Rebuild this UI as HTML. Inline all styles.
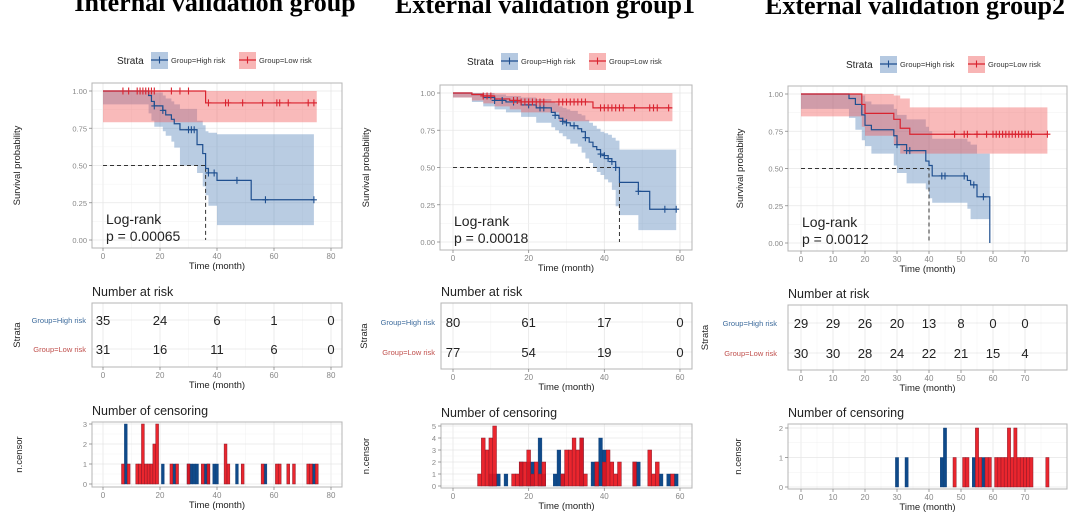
<!DOCTYPE html>
<html><head><meta charset="utf-8"><style>
body{margin:0;background:#fff;}
svg{display:block;font-family:"Liberation Sans",sans-serif;}
</style></head><body>
<svg id="fig" width="1080" height="525" viewBox="0 0 1080 525" xmlns="http://www.w3.org/2000/svg">
<text x="215" y="11" text-anchor="middle" font-family="Liberation Serif,serif" font-weight="bold" font-size="26">Internal validation group</text>
<text x="545" y="13" text-anchor="middle" font-family="Liberation Serif,serif" font-weight="bold" font-size="26">External validation group1</text>
<text x="915" y="14" text-anchor="middle" font-family="Liberation Serif,serif" font-weight="bold" font-size="26">External validation group2</text>
</svg>
<script>
// ---- Panel 1 data ----
const p1HighT=[0,16,17,18,21,22,24,25,27,33,35,36,37,40,52,74];
const p1HighS=[1,.97,.93,.90,.87,.84,.81,.78,.74,.64,.58,.48,.45,.40,.27,.27];
const p1HighUp=[1,1,1,.99,.97,.95,.93,.91,.88,.80,.77,.73,.72,.71,.71,.71];
const p1HighLo=[1,.91,.85,.80,.76,.73,.70,.66,.62,.50,.45,.36,.30,.23,.10,.10];
const p1LowT=[0,36,75];
const p1LowS=[1,.92,.92];
const p1LowUp=[1,1,1];
const p1LowLo=[1,.79,.79];
const p1HighCens=[18,21,30,31,32,37,39,47,57,74];
const p1LowCens=[7,9,12,13,14,15,16,17,18,24,27,30,37,43,44,49,56,61,62,65,72,74];
const p1XTicks=[0,20,40,60,80];
const p1RiskHigh=[35,24,6,1,0];
const p1RiskLow=[31,16,11,6,0];
const p1BarHighT=[8,21,25,30,31,32,33,36,37,39,40,47,57,74];
const p1BarHighN=[3,1,1,1,1,1,1,1,1,1,1,1,1,1];
const p1BarLowT=[7,9,12,13,14,15,16,17,18,19,24,26,30,35,37,43,44,49,56,61,62,65,67,72,73,75];
const p1BarLowN=[1,1,1,1,3,1,1,1,2,3,1,1,1,1,1,2,1,1,1,1,1,1,1,1,1,1];
const p1CensTicks=[0,1,2,3];
// ---- Panel 2 data ----
const p2HighT=[0,5,8,11,14,18,22,26,27,28,29,30,31,33,34,35,36,37,38,39,40,41,42,43,44,49,52,59];
const p2HighS=[1,.99,.97,.95,.94,.92,.90,.87,.85,.83,.81,.80,.78,.76,.74,.70,.67,.64,.62,.59,.58,.56,.54,.50,.40,.34,.22,.22];
const p2HighUp=[1,1,1,.99,.98,.97,.96,.94,.93,.91,.90,.89,.88,.86,.85,.82,.80,.78,.76,.74,.73,.72,.70,.68,.62,.62,.62,.62];
const p2HighLo=[1,.97,.94,.91,.89,.87,.84,.80,.77,.75,.73,.71,.69,.66,.64,.60,.56,.53,.50,.47,.45,.42,.40,.35,.24,.18,.08,.08];
const p2LowT=[0,5,8,11,15,18,28,37,58];
const p2LowS=[1,.99,.98,.96,.95,.94,.94,.90,.90];
const p2LowUp=[1,1,1,1,1,1,1,1,1];
const p2LowLo=[1,.97,.95,.93,.91,.89,.87,.81,.81];
const p2HighCens=[11,13,16,20,23,24,27,29,30,32,35,39,40,41,42,43,49,56,59];
const p2LowCens=[8,9,10,16,17,18,19,20,21,22,23,24,28,29,30,31,32,33,34,35,39,40,41,42,43,44,45,48,52,53,54,57];
const p2XTicks=[0,20,40,60];
const p2RiskHigh=[80,61,17,0];
const p2RiskLow=[77,54,19,0];
const p2BarHighT=[10,11,12,14,18,20,21,23,24,27,28,29,34,37,38,39,40,48,49,55,57,59];
const p2BarHighN=[1,1,1,1,2,2,2,4,1,1,3,1,4,2,2,4,3,2,2,1,1,1];
const p2BarLowT=[7,8,9,10,11,16,17,18,19,20,21,22,23,24,29,30,31,32,33,34,35,38,40,41,42,43,44,48,52,53,54,58];
const p2BarLowN=[1,4,3,4,5,1,1,2,2,3,1,2,1,2,1,3,3,4,3,4,1,2,2,3,2,1,2,2,3,1,2,1];
const p2CensTicks=[0,1,2,3,4,5];
// ---- Panel 3 data ----
const p3HighT=[0,15,17,19,20,22,29,30,33,39,40,41,52,53,55,59];
const p3HighS=[1,.97,.93,.86,.79,.76,.72,.66,.62,.55,.52,.45,.42,.39,.31,0];
const p3HighUp=[1,1,1,.99,.95,.93,.90,.86,.83,.78,.75,.70,.68,.66,.60,.60];
const p3HighLo=[1,.90,.84,.76,.69,.65,.60,.52,.47,.40,.36,.30,.27,.23,.16,.16];
const p3LowT=[0,19,20,29,31,34,77];
const p3LowS=[1,.93,.87,.83,.77,.73,.73];
const p3LowUp=[1,1,1,.99,.97,.91,.91];
const p3LowLo=[1,.85,.78,.72,.66,.60,.60];
const p3HighCens=[30,33,34,44,45,51,54,57];
const p3LowCens=[48,51,52,55,58,60,61,62,63,64,65,66,67,68,69,70,71,72,77];
const p3XTicks=[0,10,20,30,40,50,60,70];
const p3RiskHigh=[29,29,26,20,13,8,0,0];
const p3RiskLow=[30,30,28,24,22,21,15,4];
const p3BarHighT=[30,33,44,45,54,57];
const p3BarHighN=[1,1,1,2,1,1];
const p3BarLowT=[48,51,52,55,56,58,59,61,62,63,64,65,66,67,68,69,70,71,72,77];
const p3BarLowN=[1,1,1,2,1,1,1,1,1,1,1,2,1,2,1,1,1,1,1,1];
const p3CensTicks=[0,1,2];

const NS='http://www.w3.org/2000/svg';
const svg=document.getElementById('fig');
const BLUE='#1f4f8f',RED='#d9232f';
function mk(tag,attrs,parent,txt){const e=document.createElementNS(NS,tag);for(const k in attrs)e.setAttribute(k,attrs[k]);if(txt!==undefined)e.textContent=txt;(parent||svg).appendChild(e);return e;}
function txt(x,y,s,size,fill,anchor,name,rot){const e=mk('text',{x:x,y:y,'font-size':size,fill:fill,'text-anchor':anchor||'start'},svg,s);


if(rot)e.setAttribute('transform','rotate(-90 '+x+' '+y+')');return e;}
function stepPath(T,V,xs,ys){let d='M'+xs(T[0])+','+ys(V[0]);for(let i=1;i<T.length;i++){d+=' H'+xs(T[i])+' V'+ys(V[i]);}return d;}
function bandPath(T,U,L,xs,ys){let d='M'+xs(T[0])+','+ys(U[0]);for(let i=1;i<T.length;i++){d+=' H'+xs(T[i])+' V'+ys(U[i]);}
for(let i=T.length-1;i>=1;i--){d+=' V'+ys(L[i])+' H'+xs(T[i-1]);}d+=' V'+ys(L[0])+' Z';return d;}
function grid(box,xs,xt,yvals,ys,name){
  const g=mk('g',{});
  
  
  mk('rect',{x:box.x1,y:box.y1,width:box.x2-box.x1,height:box.y2-box.y1,fill:'#fff'},g);
  const step=xt[1]-xt[0];
  for(let i=0;i<xt.length;i++){mk('line',{x1:xs(xt[i]),x2:xs(xt[i]),y1:box.y1,y2:box.y2,stroke:'#e6e6e6','stroke-width':0.8},g);
    const m=xt[i]+step/2;const mx=xs(m);if(mx<box.x2)mk('line',{x1:mx,x2:mx,y1:box.y1,y2:box.y2,stroke:'#f1f1f1','stroke-width':0.5},g);}
  const mm=xs(xt[0]-step/2);if(mm>box.x1)mk('line',{x1:mm,x2:mm,y1:box.y1,y2:box.y2,stroke:'#f1f1f1','stroke-width':0.5},g);
  for(let i=0;i<yvals.length;i++){mk('line',{x1:box.x1,x2:box.x2,y1:ys(yvals[i]),y2:ys(yvals[i]),stroke:'#e6e6e6','stroke-width':0.8},g);
    if(i<yvals.length-1){const yy=ys((yvals[i]+yvals[i+1])/2);mk('line',{x1:box.x1,x2:box.x2,y1:yy,y2:yy,stroke:'#f1f1f1','stroke-width':0.5},g);}}
  return g;}
function border(box,name){const r=mk('rect',{x:box.x1,y:box.y1,width:box.x2-box.x1,height:box.y2-box.y1,fill:'none',stroke:'#b5b5b5','stroke-width':1});

}
function xticks(box,xs,xt,pfx){for(const t of xt){mk('line',{x1:xs(t),x2:xs(t),y1:box.y2,y2:box.y2+3,stroke:'#888','stroke-width':0.8});
 txt(xs(t),box.y2+11,String(t),8,'#888','middle',pfx+'-x-tick-'+t);}}
function cross(x,y,col,g){mk('path',{d:'M'+(x-3)+','+y+' H'+(x+3)+' M'+x+','+(y-3.5)+' V'+(y+3.5),stroke:col,'stroke-width':1.1,fill:'none'},g);}

function panel(P){
  const xs=t=>P.x0+t*P.xk;
  txt(P.leg.x,P.leg.y+4,'Strata',10,'#222','start',P.id+'-legend-title');
  const lk=[[BLUE,'rgba(70,120,180,0.4)','Group=High risk'],[RED,'rgba(240,90,90,0.45)','Group=Low risk']];
  let lx=P.leg.x+34;
  lk.forEach((k,i)=>{const g=mk('g',{});
    
    
    mk('rect',{x:lx,y:P.leg.y-8,width:17,height:17,fill:k[1]},g);
    mk('line',{x1:lx,x2:lx+17,y1:P.leg.y,y2:P.leg.y,stroke:k[0],'stroke-width':1.2},g);cross(lx+8.5,P.leg.y,k[0],g);
    mk('text',{x:lx+20,y:P.leg.y+3,'font-size':7.5,fill:'#333'},g,k[2]);lx+=88;});
  const B=P.km, ys=v=>P.ky0+(P.ky1-P.ky0)*v;
  grid(B,xs,P.xt,[0,.25,.5,.75,1],ys,P.id+'-km-grid');
  const bh=mk('path',{d:bandPath(P.hT,P.hUp,P.hLo,xs,ys),fill:'rgba(70,120,180,0.38)'});
  
  const bl=mk('path',{d:bandPath(P.lT,P.lUp,P.lLo,xs,ys),fill:'rgba(240,90,90,0.42)'});
  
  mk('path',{d:'M'+xs(0)+','+ys(.5)+' H'+xs(P.med)+' V'+ys(0),stroke:'#333','stroke-width':1,'stroke-dasharray':'4,3',fill:'none'});
  const lh=mk('path',{d:stepPath(P.hT,P.hS,xs,ys),stroke:BLUE,'stroke-width':1.2,fill:'none'});
  
  const ll=mk('path',{d:stepPath(P.lT,P.lS,xs,ys),stroke:RED,'stroke-width':1.2,fill:'none'});
  
  const sv=(T,V,t)=>{let v=V[0];for(let i=0;i<T.length;i++)if(T[i]<=t)v=V[i];return v;};
  P.hC.forEach(t=>cross(xs(t),ys(sv(P.hT,P.hS,t)),BLUE));
  P.lC.forEach(t=>cross(xs(t),ys(sv(P.lT,P.lS,t)),RED));
  border(B,P.id+'-km-panel');
  [0,.25,.5,.75,1].forEach(v=>{mk('line',{x1:B.x1-3,x2:B.x1,y1:ys(v),y2:ys(v),stroke:'#888','stroke-width':0.8});
    txt(B.x1-5,ys(v)+3,v.toFixed(2),7.5,'#888','end',P.id+'-y-tick-'+v);});
  xticks(B,xs,P.xt,P.id+'-km');
  txt((B.x1+B.x2)/2,B.y2+21,'Time (month)',9.5,'#222','middle',P.id+'-km-x-title');
  txt(P.ylx,(B.y1+B.y2)/2,'Survival probability',9.5,'#222','middle',P.id+'-km-y-title',true);
  txt(B.x1+14,B.y2-24,'Log-rank',14,'#222','start',P.id+'-logrank-label');
  txt(B.x1+14,B.y2-7,'p = '+P.p,14,'#222','start',P.id+'-logrank-p');
  const R=P.rk;
  txt(R.x1,R.y1-7,'Number at risk',12.5,'#222','start',P.id+'-risk-title');
  grid(R,xs,P.xt,[],null,P.id+'-risk-grid');
  [P.r1,P.r2].forEach(y=>mk('line',{x1:R.x1,x2:R.x2,y1:y,y2:y,stroke:'#e6e6e6','stroke-width':0.8}));
  border(R,P.id+'-risk-panel');
  P.xt.forEach((t,i)=>{txt(xs(t),P.r1+5,String(P.rh[i]),13,'#222','middle',P.id+'-risk-high-'+t);
    txt(xs(t),P.r2+5,String(P.rl[i]),13,'#222','middle',P.id+'-risk-low-'+t);});
  txt(R.x1-P.lblOff,P.r1+3,'Group=High risk',7.5,'#3d6b9c','end',P.id+'-risk-label-high');
  txt(R.x1-P.lblOff,P.r2+3,'Group=Low risk',7.5,'#c0504d','end',P.id+'-risk-label-low');
  xticks(R,xs,P.xt,P.id+'-risk');
  txt((R.x1+R.x2)/2,R.y2+21,'Time (month)',9.5,'#222','middle',P.id+'-risk-x-title');
  txt(P.slx,(R.y1+R.y2)/2,'Strata',9.5,'#222','middle',P.id+'-risk-y-title',true);
  const C=P.cs, cy=v=>P.cy0+v*P.cyk;
  txt(C.x1,C.y1-7,'Number of censoring',12.5,'#222','start',P.id+'-censor-title');
  grid(C,xs,P.xt,P.ct,cy,P.id+'-censor-grid');
  const bw=Math.max(P.xk*1.0,2.5);
  P.bhT.forEach((t,i)=>{const r=mk('rect',{x:xs(t)-bw/2,y:cy(P.bhN[i]),width:bw,height:cy(0)-cy(P.bhN[i]),fill:'#0f4a8a',stroke:'#0f3e75','stroke-width':0.4});
    });
  P.blT.forEach((t,i)=>{const r=mk('rect',{x:xs(t)-bw/2,y:cy(P.blN[i]),width:bw,height:cy(0)-cy(P.blN[i]),fill:'#e8141c',stroke:'#8b1a2a','stroke-width':0.5,'fill-opacity':0.92});
    });
  border(C,P.id+'-censor-panel');
  P.ct.forEach(v=>{mk('line',{x1:C.x1-3,x2:C.x1,y1:cy(v),y2:cy(v),stroke:'#888','stroke-width':0.8});txt(C.x1-5,cy(v)+3,String(v),7.5,'#888','end',P.id+'-censor-y-tick-'+v);});
  xticks(C,xs,P.xt,P.id+'-censor');
  txt((C.x1+C.x2)/2,C.y2+21,'Time (month)',9.5,'#222','middle',P.id+'-censor-x-title');
  txt(P.nlx,(C.y1+C.y2)/2,'n.censor',9.5,'#222','middle',P.id+'-censor-y-title',true);
}
panel({id:'internal',x0:103,xk:2.85,xt:p1XTicks,leg:{x:117,y:60},ylx:20,slx:20,nlx:22,lblOff:6,
  km:{x1:92,x2:342,y1:83,y2:248},ky0:240,ky1:91,med:36,p:'0.00065',
  hT:p1HighT,hS:p1HighS,hUp:p1HighUp,hLo:p1HighLo,lT:p1LowT,lS:p1LowS,lUp:p1LowUp,lLo:p1LowLo,hC:p1HighCens,lC:p1LowCens,
  rk:{x1:92,x2:342,y1:303,y2:367},r1:320,r2:349,rh:p1RiskHigh,rl:p1RiskLow,
  cs:{x1:92,x2:342,y1:422,y2:487},cy0:484,cyk:-20,ct:p1CensTicks,bhT:p1BarHighT,bhN:p1BarHighN,blT:p1BarLowT,blN:p1BarLowN});
panel({id:'external1',x0:453,xk:3.783,xt:p2XTicks,leg:{x:467,y:61},ylx:369,slx:367,nlx:369,lblOff:6,
  km:{x1:440,x2:692,y1:85,y2:250},ky0:242,ky1:93,med:44,p:'0.00018',
  hT:p2HighT,hS:p2HighS,hUp:p2HighUp,hLo:p2HighLo,lT:p2LowT,lS:p2LowS,lUp:p2LowUp,lLo:p2LowLo,hC:p2HighCens,lC:p2LowCens,
  rk:{x1:441,x2:692,y1:303,y2:369},r1:322,r2:352,rh:p2RiskHigh,rl:p2RiskLow,
  cs:{x1:441,x2:692,y1:424,y2:488},cy0:486,cyk:-12,ct:p2CensTicks,bhT:p2BarHighT,bhN:p2BarHighN,blT:p2BarLowT,blN:p2BarLowN});
panel({id:'external2',x0:801,xk:3.2,xt:p3XTicks,leg:{x:846,y:64},ylx:743,slx:708,nlx:741,lblOff:11,
  km:{x1:788,x2:1067,y1:86,y2:251},ky0:243,ky1:94,med:40,p:'0.0012',
  hT:p3HighT,hS:p3HighS,hUp:p3HighUp,hLo:p3HighLo,lT:p3LowT,lS:p3LowS,lUp:p3LowUp,lLo:p3LowLo,hC:p3HighCens,lC:p3LowCens,
  rk:{x1:788,x2:1067,y1:305,y2:370},r1:323,r2:353,rh:p3RiskHigh,rl:p3RiskLow,
  cs:{x1:788,x2:1067,y1:424,y2:489},cy0:487,cyk:-29.5,ct:p3CensTicks,bhT:p3BarHighT,bhN:p3BarHighN,blT:p3BarLowT,blN:p3BarLowN});
</script>
</body></html>
